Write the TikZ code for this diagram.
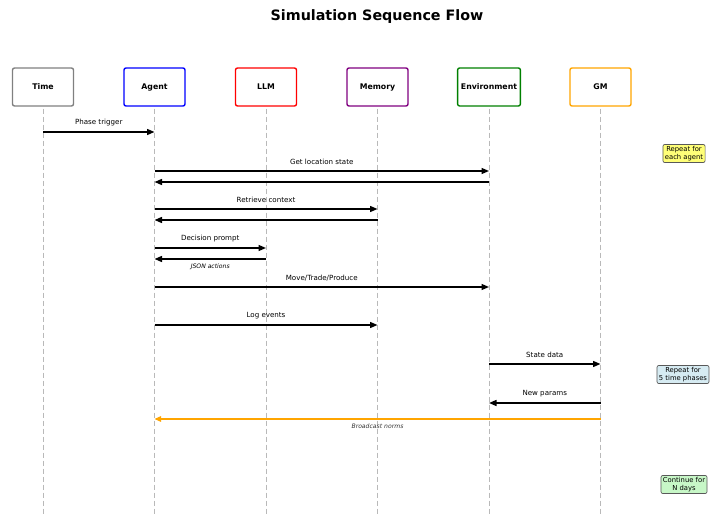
\documentclass[tikz,border=0pt]{standalone}
\usepackage{fontspec}
\setmainfont{DejaVu Sans}
\usetikzlibrary{arrows.meta}

\definecolor{notey}{rgb}{1,1,0.47}
\definecolor{noteb}{rgb}{0.84,0.92,0.95}
\definecolor{noteg}{rgb}{0.78,0.97,0.78}
\definecolor{gmorange}{RGB}{255,165,0}
\definecolor{mempurple}{RGB}{128,0,128}
\definecolor{envgreen}{RGB}{0,128,0}

\begin{document}
\begin{tikzpicture}[x=1pt, y=-1pt, >={Triangle[length=7.5pt, width=6pt]},
  actor/.style={draw=#1, line width=1.4pt, rounded corners=2pt, fill=white,
    minimum width=61pt, minimum height=38pt, font=\fontsize{7.8}{9}\selectfont\bfseries},
  lifeline/.style={gray!55, line width=0.9pt, dash pattern=on 5pt off 3pt},
  msg/.style={->, line width=1.4pt},
  lbl/.style={midway, above=5.5pt, inner sep=0pt, font=\fontsize{7.1}{8}\selectfont},
  ilbl/.style={midway, below=4pt, inner sep=0pt, font=\fontsize{6.1}{7}\selectfont\itshape},
  note/.style={draw=gray!70!black, fill=#1, line width=0.7pt, rounded corners=2pt,
    align=center, inner sep=2pt, font=\fontsize{6.8}{7.6}\selectfont}]
  \useasboundingbox (0,0) rectangle (710,516);

  % Title
  \node[font=\fontsize{14.3}{17}\selectfont\bfseries] (title) at (377,17) {Simulation Sequence Flow};

  % Participants
  \node[actor=gray] (time) at (43,87) {Time};
  \node[actor=blue] (agent) at (154.5,87) {Agent};
  \node[actor=red] (llm) at (266,87) {LLM};
  \node[actor=mempurple] (memory) at (377.5,87) {Memory};
  \node[actor=envgreen] (env) at (489,87) {Environment};
  \node[actor=gmorange] (gm) at (600.5,87) {GM};

  % Lifelines
  \foreach \p in {time, agent, llm, memory, env, gm}
    \draw[lifeline] ([yshift=-2pt]\p.south) -- (\p |- 0,516);

  % Messages
  \draw[msg] (time |- 0,132) -- (agent |- 0,132) node[lbl] {Phase trigger};
  \draw[msg] (agent |- 0,171) -- (env |- 0,171) node[lbl] {Get location state};
  \draw[msg] (env |- 0,182) -- (agent |- 0,182);
  \draw[msg] (agent |- 0,209) -- (memory |- 0,209) node[lbl] {Retrieve context};
  \draw[msg] (memory |- 0,220) -- (agent |- 0,220);
  \draw[msg] (agent |- 0,248) -- (llm |- 0,248) node[lbl] {Decision prompt};
  \draw[msg] (llm |- 0,259) -- (agent |- 0,259) node[ilbl] {JSON actions};
  \draw[msg] (agent |- 0,287) -- (env |- 0,287) node[lbl] {Move/Trade/Produce};
  \draw[msg] (agent |- 0,325) -- (memory |- 0,325) node[lbl] {Log events};
  \draw[msg] (env |- 0,364) -- (gm |- 0,364) node[lbl] {State data};
  \draw[msg] (gm |- 0,403) -- (env |- 0,403) node[lbl] {New params};

  % Broadcast from GM
  \draw[->, draw=gmorange, fill=gmorange, line width=1.3pt, >={Triangle[length=6.5pt, width=5.5pt]}]
    (gm |- 0,419) -- (agent |- 0,419) node[ilbl, text=black!80] {Broadcast norms};

  % Loop notes
  \node[note=notey] (loopagent) at (684,153.5) {Repeat for\\each agent};
  \node[note=noteb] (loopphase) at (683,374.5) {Repeat for\\5 time phases};
  \node[note=noteg] (loopday) at (684,484.5) {Continue for\\N days};
\end{tikzpicture}
\end{document}
